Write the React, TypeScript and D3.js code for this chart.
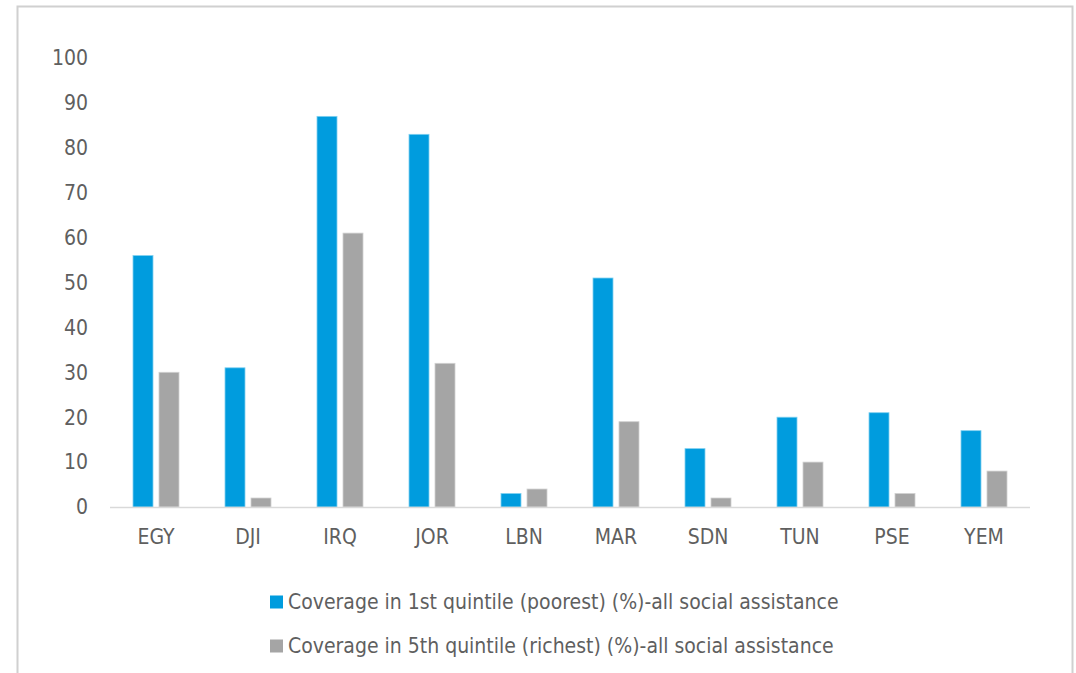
import React, { useEffect, useRef } from 'react';
import * as d3 from 'd3';

const categories = ['EGY', 'DJI', 'IRQ', 'JOR', 'LBN', 'MAR', 'SDN', 'TUN', 'PSE', 'YEM'];
const poorest = [56, 31, 87, 83, 3, 51, 13, 20, 21, 17];
const richest = [30, 2, 61, 32, 4, 19, 2, 10, 3, 8];
const seriesNames = [
  'Coverage in 1st quintile (poorest) (%)-all social assistance',
  'Coverage in 5th quintile (richest) (%)-all social assistance',
];
const yTicks = [0, 10, 20, 30, 40, 50, 60, 70, 80, 90, 100];

const COLORS = ['#009cde', '#a5a5a5'];
const FONT = '"Liberation Sans Narrow", "DejaVu Sans Condensed", "Open Sans", sans-serif';

export default function App() {
  const svgRef = useRef<SVGSVGElement>(null);

  useEffect(() => {
    if (!svgRef.current) return;
    const svg = d3.select(svgRef.current);
    svg.selectAll('*').remove();

    // outer frame
    svg.append('rect')
      .attr('x', 17.5).attr('y', 6.5)
      .attr('width', 1055).attr('height', 700)
      .attr('fill', '#fff')
      .attr('stroke', '#d0d0d0')
      .attr('stroke-width', 2);

    const x = d3.scaleBand<string>()
      .domain(categories)
      .range([110, 1030]);

    const y = d3.scaleLinear()
      .domain([0, 100])
      .range([507, 58]);

    // y labels (no axis line)
    svg.append('g')
      .selectAll('text')
      .data(yTicks)
      .join('text')
      .attr('x', 88)
      .attr('y', d => y(d))
      .attr('dy', '0.35em')
      .attr('text-anchor', 'end')
      .attr('font-family', FONT)
      .attr('font-size', 21)
      .attr('fill', '#5f5f5f')
      .text(d => d);

    const barW = 20;
    const series = [poorest, richest];
    series.forEach((vals, s) => {
      svg.append('g')
        .selectAll('rect')
        .data(vals)
        .join('rect')
        .attr('x', (_, i) => x(categories[i])! + x.bandwidth() / 2 + (s === 0 ? -23 : 3))
        .attr('y', d => y(d))
        .attr('width', barW)
        .attr('height', d => y(0) - y(d))
        .attr('fill', COLORS[s])
        .attr('stroke', s === 0 ? '#7fd0f0' : '#d0d0d0')
        .attr('stroke-width', 0.8);
    });

    // baseline
    svg.append('line')
      .attr('x1', 110).attr('x2', 1030)
      .attr('y1', y(0) + 0.5).attr('y2', y(0) + 0.5)
      .attr('stroke', '#d9d9d9')
      .attr('stroke-width', 1.5);

    // category labels
    svg.append('g')
      .selectAll('text')
      .data(categories)
      .join('text')
      .attr('x', d => x(d)! + x.bandwidth() / 2)
      .attr('y', 537)
      .attr('dy', '0.35em')
      .attr('text-anchor', 'middle')
      .attr('font-family', FONT)
      .attr('font-size', 21)
      .attr('fill', '#5f5f5f')
      .text(d => d);

    // legend
    const legend = svg.append('g');
    seriesNames.forEach((name, i) => {
      const ly = 602 + i * 44;
      legend.append('rect')
        .attr('x', 270).attr('y', ly - 6.5)
        .attr('width', 13).attr('height', 13)
        .attr('fill', COLORS[i]);
      legend.append('text')
        .attr('x', 288).attr('y', ly)
        .attr('dy', '0.35em')
        .attr('font-family', FONT)
        .attr('font-size', 21)
        .attr('fill', '#5f5f5f')
        .text(name);
    });
  }, []);

  return (
    <svg
      ref={svgRef}
      width={1076}
      height={673}
      style={{ position: 'absolute', left: 0, top: 0, background: '#fff' }}
    />
  );
}
